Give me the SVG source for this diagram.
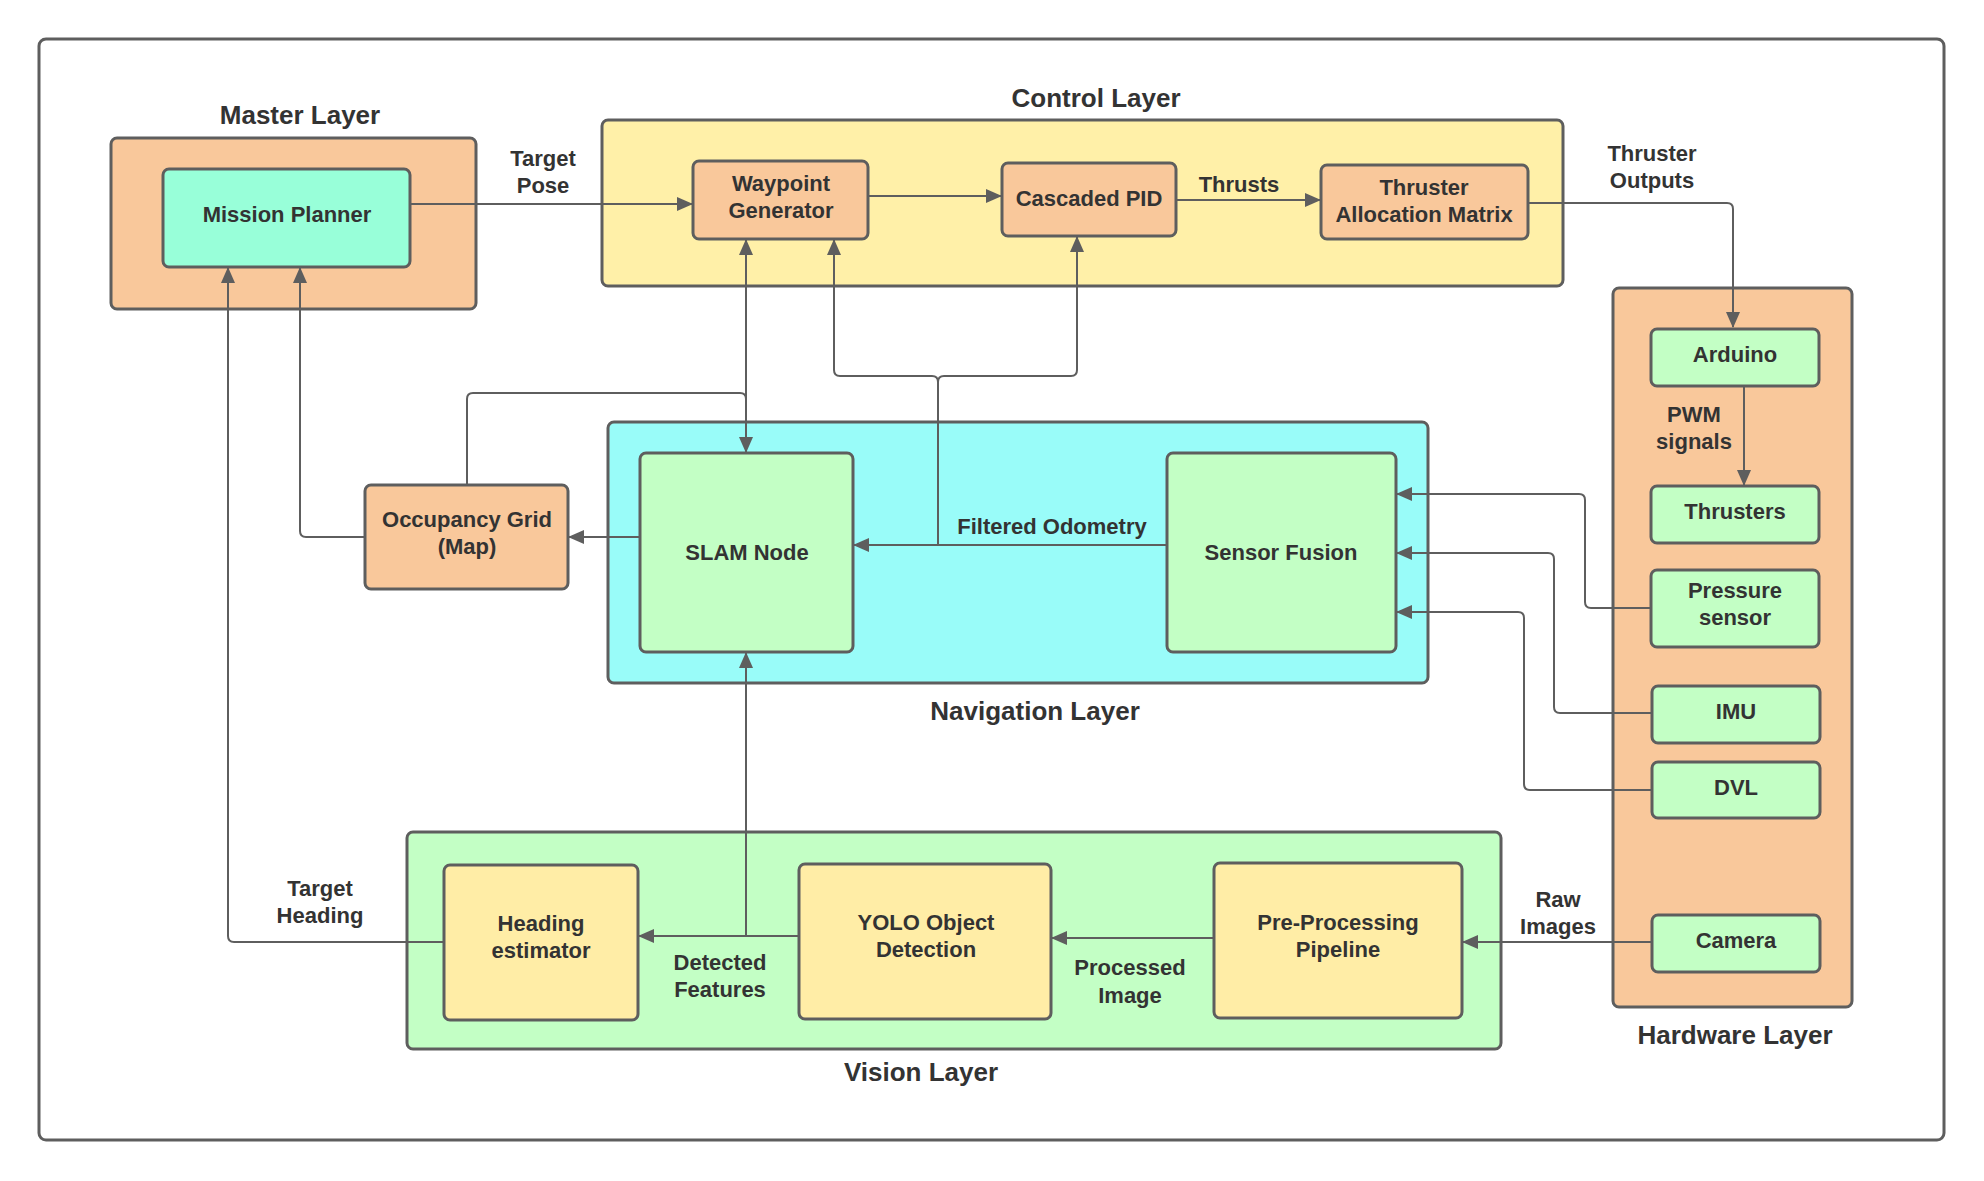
<svg xmlns="http://www.w3.org/2000/svg" width="1984" height="1181" viewBox="0 0 1984 1181">
<defs>
<style>
text{font-family:"Liberation Sans",Arial,sans-serif;font-weight:bold;fill:#333333;text-anchor:middle}
.t{font-size:22px}
.e{font-size:22px}
.L{font-size:26px}
.layer{stroke:#5e5e5e;stroke-width:3}
.node{stroke:#5e5e5e;stroke-width:3}
.c{fill:none;stroke:#5e5e5e;stroke-width:2}
.a{marker-end:url(#ah)}
</style>
<marker id="ah" markerUnits="userSpaceOnUse" markerWidth="16" markerHeight="14" viewBox="0 0 16 14" refX="15" refY="7" orient="auto">
<path d="M0,0 L16,7 L0,14 Z" fill="#5e5e5e"/>
</marker>
</defs>
<rect width="1984" height="1181" fill="#ffffff"/>
<rect x="39" y="39" width="1905" height="1101" rx="7" fill="none" stroke="#5e5e5e" stroke-width="3"/>

<g id="master-layer">
<rect class="layer" x="111" y="138" width="365" height="171" rx="6" fill="#f9c89b"/>
<text class="L" x="300" y="124">Master Layer</text>
</g>
<g id="control-layer">
<rect class="layer" x="602" y="120" width="961" height="166" rx="6" fill="#fff0a8"/>
<text class="L" x="1096" y="107">Control Layer</text>
</g>
<g id="navigation-layer">
<rect class="layer" x="608" y="422" width="820" height="261" rx="6" fill="#99fcf9"/>
<text class="L" x="1035" y="720">Navigation Layer</text>
</g>
<g id="vision-layer">
<rect class="layer" x="407" y="832" width="1094" height="217" rx="6" fill="#c3ffc5"/>
<text class="L" x="921" y="1081">Vision Layer</text>
</g>
<g id="hardware-layer">
<rect class="layer" x="1613" y="288" width="239" height="719" rx="6" fill="#f9c89b"/>
<text class="L" x="1735" y="1044">Hardware Layer</text>
</g>

<g id="connectors">
<path class="c a" d="M410,204 H692"/>
<path class="c a" d="M868,196 H1001"/>
<path class="c a" d="M1176,200 H1320"/>
<path class="c a" d="M1528,203 H1727 Q1733,203 1733,209 V327"/>
<path class="c a" d="M1744,386 V485"/>
<path class="c a" d="M1652,608 H1591 Q1585,608 1585,602 V500 Q1585,494 1579,494 H1397"/>
<path class="c a" d="M1652,713 H1560 Q1554,713 1554,707 V559 Q1554,553 1548,553 H1397"/>
<path class="c a" d="M1652,790 H1530 Q1524,790 1524,784 V618 Q1524,612 1518,612 H1397"/>
<path class="c a" d="M1652,942 H1463"/>
<path class="c a" d="M1214,938 H1052"/>
<path class="c a" d="M799,936 H639"/>
<path class="c a" d="M746,936 V653"/>
<path class="c a" d="M444,942 H234 Q228,942 228,936 V268"/>
<path class="c a" d="M365,537 H306 Q300,537 300,531 V268"/>
<path class="c a" d="M640,537 H569"/>
<path class="c a" d="M1167,545 H854"/>
<path class="c a" d="M938,545 V382 Q938,376 932,376 H840 Q834,376 834,370 V240"/>
<path class="c a" d="M938,382 Q938,376 944,376 H1071 Q1077,376 1077,370 V237"/>
<path class="c a" d="M467,485 V399 Q467,393 473,393 H740 Q746,393 746,399 V452"/>
<path class="c a" d="M746,399 V240"/>
</g>

<g id="mission-planner">
<rect class="node" x="163" y="169" width="247" height="98" rx="6" fill="#98ffd9"/>
<text class="t" x="287" y="222">Mission Planner</text>
</g>
<g id="waypoint-generator">
<rect class="node" x="693" y="161" width="175" height="78" rx="6" fill="#f9c89b"/>
<text class="t" x="781" y="191">Waypoint</text>
<text class="t" x="781" y="218">Generator</text>
</g>
<g id="cascaded-pid">
<rect class="node" x="1002" y="163" width="174" height="73" rx="6" fill="#f9c89b"/>
<text class="t" x="1089" y="206">Cascaded PID</text>
</g>
<g id="thruster-allocation-matrix">
<rect class="node" x="1321" y="165" width="207" height="74" rx="6" fill="#f9c89b"/>
<text class="t" x="1424" y="195">Thruster</text>
<text class="t" x="1424" y="222">Allocation Matrix</text>
</g>
<g id="arduino">
<rect class="node" x="1651" y="329" width="168" height="57" rx="6" fill="#c3ffc5"/>
<text class="t" x="1735" y="362">Arduino</text>
</g>
<g id="thrusters">
<rect class="node" x="1651" y="486" width="168" height="57" rx="6" fill="#c3ffc5"/>
<text class="t" x="1735" y="519">Thrusters</text>
</g>
<g id="pressure-sensor">
<rect class="node" x="1651" y="570" width="168" height="77" rx="6" fill="#c3ffc5"/>
<text class="t" x="1735" y="598">Pressure</text>
<text class="t" x="1735" y="625">sensor</text>
</g>
<g id="imu">
<rect class="node" x="1652" y="686" width="168" height="57" rx="6" fill="#c3ffc5"/>
<text class="t" x="1736" y="719">IMU</text>
</g>
<g id="dvl">
<rect class="node" x="1652" y="762" width="168" height="56" rx="6" fill="#c3ffc5"/>
<text class="t" x="1736" y="795">DVL</text>
</g>
<g id="camera">
<rect class="node" x="1652" y="915" width="168" height="57" rx="6" fill="#c3ffc5"/>
<text class="t" x="1736" y="948">Camera</text>
</g>
<g id="occupancy-grid">
<rect class="node" x="365" y="485" width="203" height="104" rx="6" fill="#f9c89b"/>
<text class="t" x="467" y="527">Occupancy Grid</text>
<text class="t" x="467" y="554">(Map)</text>
</g>
<g id="slam-node">
<rect class="node" x="640" y="453" width="213" height="199" rx="6" fill="#c3ffc5"/>
<text class="t" x="747" y="560">SLAM Node</text>
</g>
<g id="sensor-fusion">
<rect class="node" x="1167" y="453" width="229" height="199" rx="6" fill="#c3ffc5"/>
<text class="t" x="1281" y="560">Sensor Fusion</text>
</g>
<g id="heading-estimator">
<rect class="node" x="444" y="865" width="194" height="155" rx="6" fill="#ffeda6"/>
<text class="t" x="541" y="931">Heading</text>
<text class="t" x="541" y="958">estimator</text>
</g>
<g id="yolo-object-detection">
<rect class="node" x="799" y="864" width="252" height="155" rx="6" fill="#ffeda6"/>
<text class="t" x="926" y="930">YOLO Object</text>
<text class="t" x="926" y="957">Detection</text>
</g>
<g id="pre-processing-pipeline">
<rect class="node" x="1214" y="863" width="248" height="155" rx="6" fill="#ffeda6"/>
<text class="t" x="1338" y="930">Pre-Processing</text>
<text class="t" x="1338" y="957">Pipeline</text>
</g>

<g id="labels">
<text class="e" x="543" y="166">Target</text>
<text class="e" x="543" y="193">Pose</text>
<text class="e" x="1239" y="192">Thrusts</text>
<text class="e" x="1652" y="161">Thruster</text>
<text class="e" x="1652" y="188">Outputs</text>
<text class="e" x="1694" y="422">PWM</text>
<text class="e" x="1694" y="449">signals</text>
<text class="e" x="1052" y="534">Filtered Odometry</text>
<text class="e" x="1558" y="907">Raw</text>
<text class="e" x="1558" y="934">Images</text>
<text class="e" x="1130" y="975">Processed</text>
<text class="e" x="1130" y="1003">Image</text>
<text class="e" x="720" y="970">Detected</text>
<text class="e" x="720" y="997">Features</text>
<text class="e" x="320" y="896">Target</text>
<text class="e" x="320" y="923">Heading</text>
</g>
</svg>
